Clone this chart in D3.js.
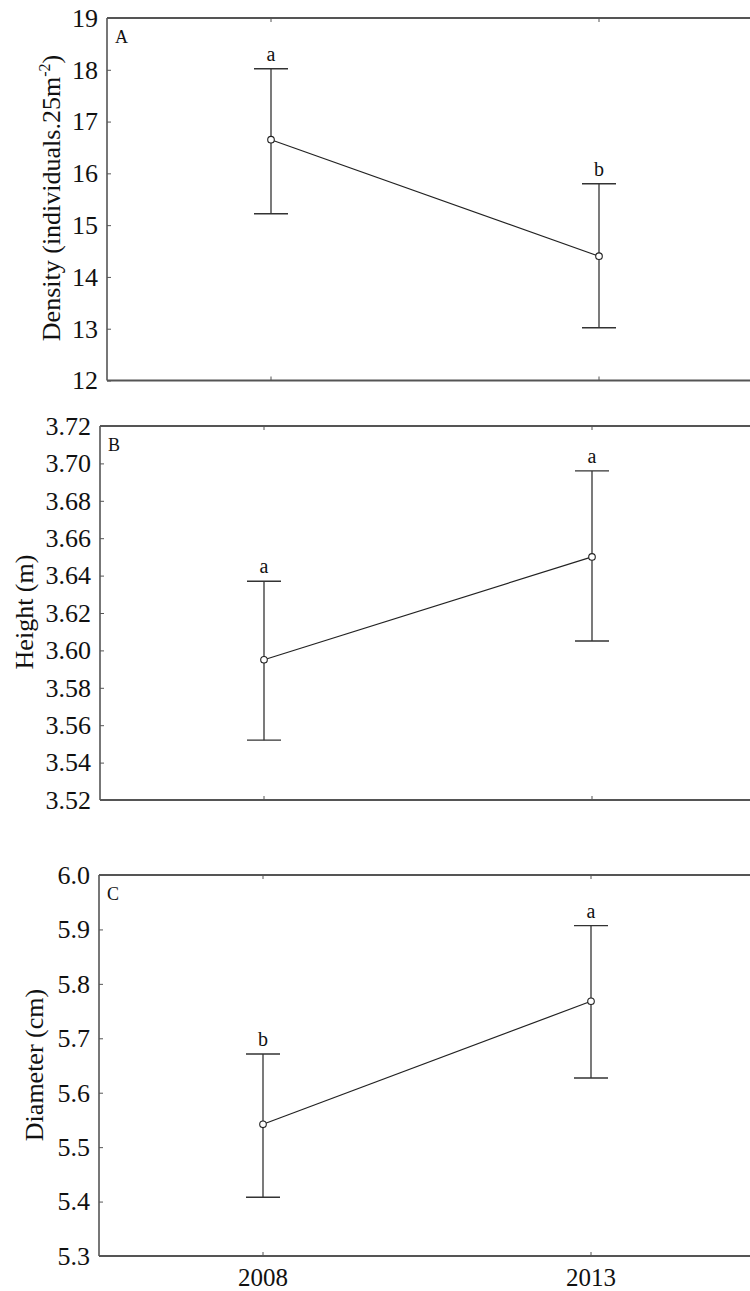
<!DOCTYPE html>
<html>
<head>
<meta charset="utf-8">
<script src="https://cdn.jsdelivr.net/npm/d3@7"></script>
<style>
  body { margin: 0; background: #fff; }
  svg { display: block; }
  text { font-family: "Liberation Serif", "Times New Roman", serif; fill: #111; }
</style>
</head>
<body>
<svg width="750" height="1291"></svg>
<script>
const years = ["2008", "2013"]

// Density (individuals.25m-2)
const densityMean = [16.65, 14.40]
const densityLow = [15.22, 13.02]
const densityHigh = [18.02, 15.80]
const densityLetters = ["a", "b"]
const densityTicks = [12, 13, 14, 15, 16, 17, 18, 19]

// Height (m)
const heightMean = [3.595, 3.650]
const heightLow = [3.552, 3.605]
const heightHigh = [3.637, 3.696]
const heightLetters = ["a", "a"]
const heightTicks = [3.52, 3.54, 3.56, 3.58, 3.60, 3.62, 3.64, 3.66, 3.68, 3.70, 3.72]

// Diameter (cm)
const diameterMean = [5.542, 5.768]
const diameterLow = [5.408, 5.627]
const diameterHigh = [5.671, 5.907]
const diameterLetters = ["b", "a"]
const diameterTicks = [5.3, 5.4, 5.5, 5.6, 5.7, 5.8, 5.9, 6.0]

document.addEventListener('DOMContentLoaded', () => {
    const svg = d3.select("svg")

    drawPanel(svg, {
        left: 107, top: 18, bottom: 380.5, letter: "A",
        domain: [12, 19], ticks: densityTicks, fmt: d3.format("d"),
        mean: densityMean, low: densityLow, high: densityHigh, sig: densityLetters,
        titleX: 60, titleY: 198, title: "density", showYears: false
    })

    drawPanel(svg, {
        left: 100, top: 426, bottom: 800, letter: "B",
        domain: [3.52, 3.72], ticks: heightTicks, fmt: d3.format(".2f"),
        mean: heightMean, low: heightLow, high: heightHigh, sig: heightLetters,
        titleX: 33, titleY: 612, title: "Height (m)", showYears: false
    })

    drawPanel(svg, {
        left: 99, top: 875, bottom: 1256, letter: "C",
        domain: [5.3, 6.0], ticks: diameterTicks, fmt: d3.format(".1f"),
        mean: diameterMean, low: diameterLow, high: diameterHigh, sig: diameterLetters,
        titleX: 43, titleY: 1065, title: "Diameter (cm)", showYears: true
    })
})

function drawPanel(svg, c) {
    const right = c.left + 656
    const x = d3.scalePoint().domain(years).range([c.left, right]).padding(0.5)
    const y = d3.scaleLinear().domain(c.domain).range([c.bottom, c.top])
    const g = svg.append("g")
    const frame = "#555"

    // y axis with inward ticks
    const ax = g.append("g")
        .attr("transform", `translate(${c.left},0)`)
        .call(d3.axisLeft(y).tickValues(c.ticks).tickFormat(c.fmt)
            .tickSizeInner(-4).tickSizeOuter(0).tickPadding(9))
    ax.attr("font-family", null).attr("font-size", null)
    ax.select(".domain").remove()
    ax.selectAll(".tick line").attr("stroke", frame)
    ax.selectAll(".tick text")
        .style("font-family", "'Liberation Serif', serif")
        .style("font-size", "26px")
        .attr("fill", "#111")

    // frame: left, top, bottom (right side is cut off)
    g.append("line").attr("x1", c.left).attr("x2", c.left).attr("y1", c.top).attr("y2", c.bottom)
        .attr("stroke", frame).attr("stroke-width", 1.6)
    g.append("line").attr("x1", c.left).attr("x2", right).attr("y1", c.top).attr("y2", c.top)
        .attr("stroke", frame).attr("stroke-width", 1.8)
    g.append("line").attr("x1", c.left).attr("x2", right).attr("y1", c.bottom).attr("y2", c.bottom)
        .attr("stroke", frame).attr("stroke-width", 1.8)

    // little x ticks on top and bottom
    g.selectAll(".xt-top").data(years).enter().append("line")
        .attr("x1", d => x(d)).attr("x2", d => x(d))
        .attr("y1", c.top).attr("y2", c.top + 4)
        .attr("stroke", frame)
    g.selectAll(".xt-bot").data(years).enter().append("line")
        .attr("x1", d => x(d)).attr("x2", d => x(d))
        .attr("y1", c.bottom).attr("y2", c.bottom - 4)
        .attr("stroke", frame)

    const rows = years.map((yr, i) => ({ yr: yr, m: c.mean[i], lo: c.low[i], hi: c.high[i], s: c.sig[i] }))

    // error bars
    g.selectAll(".eb").data(rows).enter().append("line")
        .attr("x1", d => x(d.yr)).attr("x2", d => x(d.yr))
        .attr("y1", d => y(d.lo)).attr("y2", d => y(d.hi))
        .attr("stroke", "#222").attr("stroke-width", 1.2)
    g.selectAll(".cap-hi").data(rows).enter().append("line")
        .attr("x1", d => x(d.yr) - 17).attr("x2", d => x(d.yr) + 17)
        .attr("y1", d => y(d.hi)).attr("y2", d => y(d.hi))
        .attr("stroke", "#333").attr("stroke-width", 1.4)
    g.selectAll(".cap-lo").data(rows).enter().append("line")
        .attr("x1", d => x(d.yr) - 17).attr("x2", d => x(d.yr) + 17)
        .attr("y1", d => y(d.lo)).attr("y2", d => y(d.lo))
        .attr("stroke", "#333").attr("stroke-width", 1.4)

    // mean line
    g.append("path").datum(rows)
        .attr("d", d3.line().x(d => x(d.yr)).y(d => y(d.m)))
        .attr("fill", "none").attr("stroke", "#222").attr("stroke-width", 1.2)

    g.selectAll("circle").data(rows).enter().append("circle")
        .attr("cx", d => x(d.yr)).attr("cy", d => y(d.m)).attr("r", 3.3)
        .attr("fill", "#fff").attr("stroke", "#222").attr("stroke-width", 1.1)

    // significance letters
    g.selectAll(".sig").data(rows).enter().append("text")
        .attr("x", d => x(d.yr)).attr("y", d => y(d.hi) - 8)
        .attr("text-anchor", "middle")
        .style("font-size", "20px")
        .text(d => d.s)

    // panel letter
    g.append("text")
        .attr("x", c.left + 8).attr("y", c.top + 25)
        .style("font-size", "18px")
        .text(c.letter)

    // y title
    const t = g.append("text")
        .attr("transform", `translate(${c.titleX},${c.titleY}) rotate(-90)`)
        .attr("text-anchor", "middle")
        .style("font-size", "26px")
    if (c.title === "density") {
        t.append("tspan").text("Density (individuals.25m")
        t.append("tspan").attr("dy", -10).style("font-size", "16px").text("-2")
        t.append("tspan").attr("dy", 10).text(")")
    } else {
        t.text(c.title)
    }

    if (c.showYears) {
        g.selectAll(".yr").data(years).enter().append("text")
            .attr("x", d => x(d)).attr("y", c.bottom + 30)
            .attr("text-anchor", "middle")
            .style("font-size", "25px")
            .text(d => d)
    }
}
</script>
</body>
</html>
